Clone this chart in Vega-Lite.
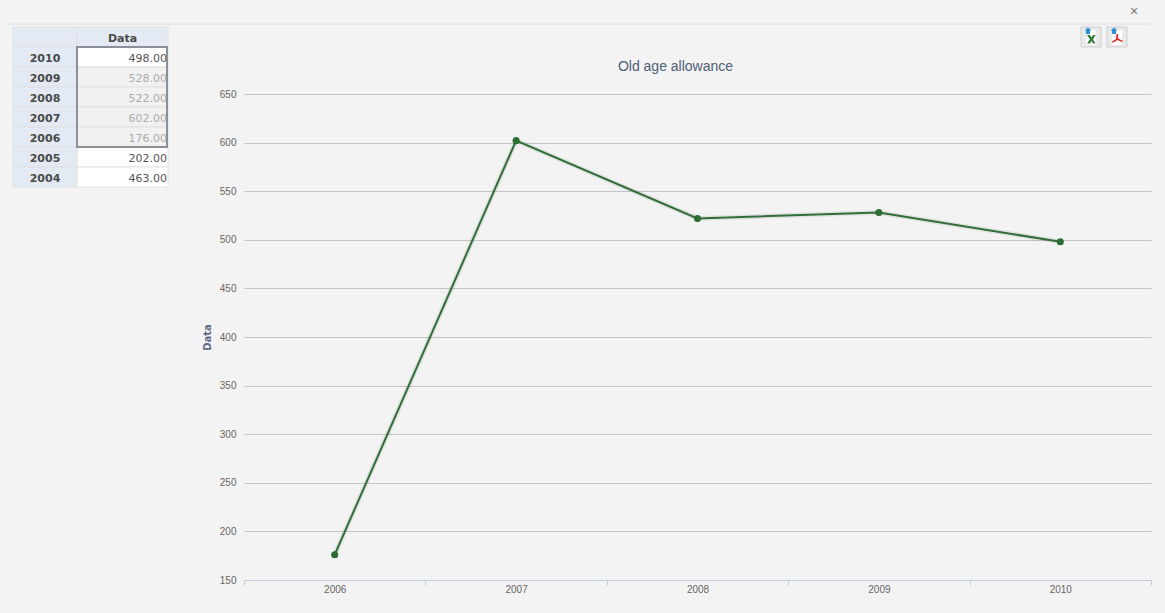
{
"$schema":"https://vega.github.io/schema/vega-lite/v6.json",
"background":"#f3f3f3",
"padding":{"left":7,"top":0,"right":15,"bottom":33},
"bounds":"flush",
"spacing":0,
"config":{"view":{"stroke":null},"font":"Liberation Sans"},
"datasets":{
"table":[
{"row":"header","year":"","head":"Data","state":"header"},
{"row":"2010","year":"2010","value":498,"state":"active","selected":true},
{"row":"2009","year":"2009","value":528,"state":"selected","selected":true},
{"row":"2008","year":"2008","value":522,"state":"selected","selected":true},
{"row":"2007","year":"2007","value":602,"state":"selected","selected":true},
{"row":"2006","year":"2006","value":176,"state":"selected","selected":true},
{"row":"2005","year":"2005","value":202,"state":"normal","selected":false},
{"row":"2004","year":"2004","value":463,"state":"normal","selected":false}
],
"strip":[{"part":"line"}],
"selection":[{"from":1,"to":6}],
"icons":[{"icon":"excel"},{"icon":"pdf"}],
"close":[{"icon":"close","label":"×"}]
},
"hconcat":[
{
"width":69,"height":580,
"layer":[
{"data":{"name":"strip"},"mark":{"type":"rule","color":"#dedede","strokeWidth":1},
"encoding":{"y":{"field":"part","type":"nominal","axis":null,"scale":{"type":"point","domain":["line"],"range":[24,24]}}}},
{"data":{"name":"table"},
"encoding":{
"y":{"field":"row","type":"nominal","axis":null,"scale":{"domain":["header","2010","2009","2008","2007","2006","2005","2004"],"range":[27,187],"paddingInner":0,"paddingOuter":0}},
"x":{"datum":"Year","type":"nominal","axis":null,"scale":{"domain":["Year"],"range":[5,69],"paddingInner":0,"paddingOuter":0}}
},
"layer":[
{"mark":{"type":"rect","fill":"#e3eaf3","stroke":"#dfe2e6","strokeWidth":1}},
{"mark":{"type":"text","font":"DejaVu Sans","fontWeight":"bold","fontSize":11,"color":"#4a4a4a","dy":2},
"encoding":{"text":{"field":"year"}}}
]}
],
"resolve":{"scale":{"y":"independent","x":"independent"}}
},
{
"width":167,"height":580,
"layer":[
{"data":{"name":"strip"},"mark":{"type":"rule","color":"#dedede","strokeWidth":1},
"encoding":{"y":{"field":"part","type":"nominal","axis":null,"scale":{"type":"point","domain":["line"],"range":[24,24]}}}},
{"data":{"name":"table"},
"encoding":{
"y":{"field":"row","type":"nominal","axis":null,"scale":{"domain":["header","2010","2009","2008","2007","2006","2005","2004"],"range":[27,187],"paddingInner":0,"paddingOuter":0}},
"x":{"datum":"Data","type":"nominal","axis":null,"scale":{"domain":["Data"],"range":[0,91],"paddingInner":0,"paddingOuter":0}}
},
"layer":[
{"mark":{"type":"rect","stroke":"#dfe2e6","strokeWidth":1},
"encoding":{"fill":{"field":"state","type":"nominal","legend":null,"scale":{"domain":["header","active","selected","normal"],"range":["#e3eaf3","#ffffff","#f1f1f1","#ffffff"]}}}},
{"transform":[{"filter":"datum.state==='header'"}],
"mark":{"type":"text","font":"DejaVu Sans","fontWeight":"bold","fontSize":11,"color":"#4a4a4a","dy":2},
"encoding":{"text":{"field":"head"}}},
{"transform":[{"filter":"datum.state!=='header'"}],
"mark":{"type":"text","font":"DejaVu Sans","fontSize":11,"align":"right","dx":-1,"dy":2},
"encoding":{
"x":{"datum":"Data","type":"nominal","bandPosition":1,"axis":null},
"text":{"field":"value","type":"quantitative","format":".2f"},
"color":{"field":"state","type":"nominal","legend":null,"scale":{"domain":["active","selected","normal"],"range":["#555555","#ababab","#555555"]}}}}
]},
{"data":{"name":"selection"},"mark":{"type":"rect","fill":null,"stroke":"#8b9098","strokeWidth":2},
"encoding":{
"x":{"datum":"Data","type":"nominal","axis":null,"scale":{"domain":["Data"],"range":[0,90],"paddingInner":0,"paddingOuter":0}},
"y":{"field":"from","type":"quantitative","axis":null,"scale":{"domain":[0,8],"range":[27,187],"nice":false,"zero":false}},
"y2":{"field":"to"}}}
],
"resolve":{"scale":{"y":"independent","x":"independent","color":"independent"}}
},
{
"width":907,"height":580,
"title":{"text":"Old age allowance","font":"Liberation Sans","fontSize":14,"fontWeight":"normal","color":"#4d6176","anchor":"middle","offset":-74,"dx":-22},
"layer":[
{"data":{"name":"strip"},"mark":{"type":"rule","color":"#dedede","strokeWidth":1},
"encoding":{"y":{"field":"part","type":"nominal","axis":null,"scale":{"type":"point","domain":["line"],"range":[24,24]}}}},
{"data":{"name":"table"},
"transform":[{"filter":"datum.selected"}],
"encoding":{
"x":{"field":"year","type":"ordinal","sort":"ascending","scale":{"range":[0,907],"paddingInner":0,"paddingOuter":0},
"axis":{"title":null,"labelAngle":0,"tickBand":"extent","grid":false,"domainColor":"#c0d0e0","tickColor":"#c0d0e0","tickSize":5,"labelPadding":-1,"labelFont":"Liberation Sans","labelFontSize":10,"labelColor":"#666666"}},
"y":{"field":"value","type":"quantitative","scale":{"domain":[150,650],"range":[580,94],"nice":false,"zero":false},
"axis":{"values":[150,200,250,300,350,400,450,500,550,600,650],"title":"Data","titleFont":"DejaVu Sans","titleFontSize":10,"titleFontWeight":"bold","titleColor":"#5f6b85","titleX":-32,"titleY":337,"titleAlign":"center","titleAngle":-90,"grid":true,"gridColor":"#c4c4c4","gridWidth":1,"domain":false,"ticks":false,"labelPadding":8,"labelFont":"Liberation Sans","labelFontSize":10,"labelColor":"#666666"}}
},
"layer":[
{"mark":{"type":"line","color":"#000000","opacity":0.07,"strokeWidth":5}},
{"mark":{"type":"line","color":"#316f38","strokeWidth":2}},
{"mark":{"type":"point","filled":true,"color":"#2c6e33","opacity":1,"size":50}}
]},
{"data":{"name":"close"},"mark":{"type":"text","fontSize":14,"color":"#777777","font":"Liberation Sans"},
"encoding":{
"x":{"field":"icon","type":"nominal","axis":null,"scale":{"type":"point","domain":["close"],"range":[890,890],"padding":0}},
"y":{"field":"icon","type":"nominal","axis":null,"scale":{"type":"point","domain":["close"],"range":[12,12],"padding":0}},
"text":{"field":"label"}}},
{"data":{"name":"icons"},
"encoding":{
"x":{"field":"icon","type":"nominal","axis":null,"scale":{"type":"point","domain":["excel","pdf"],"range":[847,873],"padding":0}},
"y":{"field":"icon","type":"nominal","axis":null,"scale":{"type":"point","domain":["excel","pdf"],"range":[37,37],"padding":0}}
},
"layer":[
{"mark":{"type":"point","filled":true,"shape":"square","size":400,"fill":"#e9e9e9","stroke":"#cfcfcf","strokeWidth":1,"opacity":1}},
{"mark":{"type":"point","filled":true,"shape":"M-0.5 -0.7 H0.5 V0.8 H-0.5 Z","size":400,"fill":"#ffffff","opacity":1}},
{"transform":[{"filter":"datum.icon==='excel'"}],"mark":{"type":"point","filled":true,"shape":"M-0.4 -0.2 L-0.1 -0.2 L0.05 0.05 L0.2 -0.2 L0.45 -0.2 L0.2 0.25 L0.45 0.65 L0.2 0.65 L0.05 0.4 L-0.1 0.65 L-0.4 0.65 L-0.1 0.25 Z","size":400,"fill":"#2f7d32","opacity":1}},
{"transform":[{"filter":"datum.icon==='pdf'"}],"mark":{"type":"point","filled":true,"shape":"M-0.05 -0.3 L0.1 -0.3 L0.12 0.15 L0.6 0.4 L0.5 0.5 L0.05 0.3 L-0.45 0.6 L-0.5 0.48 L-0.1 0.2 Z","size":400,"fill":"#e0262a","opacity":1}},
{"mark":{"type":"point","filled":true,"shape":"M-0.65 -0.65 L-0.3 -0.95 L0.05 -0.65 L-0.1 -0.65 L-0.1 -0.3 L-0.5 -0.3 L-0.5 -0.65 Z","size":400,"fill":"#2f8fd8","opacity":1}}
]}
],
"resolve":{"scale":{"y":"independent","x":"independent"},"axis":{"x":"independent","y":"independent"}}
}
]
}
